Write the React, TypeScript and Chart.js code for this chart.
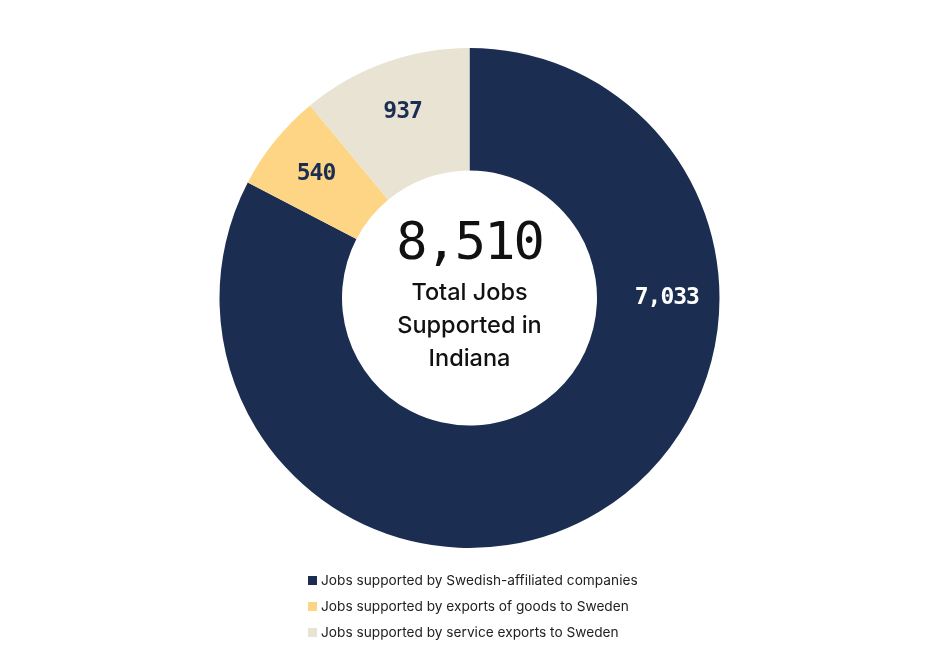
import React, { useEffect, useRef } from "react";
import { Chart, registerables } from "chart.js";

Chart.register(...registerables);

const categories = [
  "Jobs supported by Swedish-affiliated companies",
  "Jobs supported by exports of goods to Sweden",
  "Jobs supported by service exports to Sweden",
];
const jobValues = [7033, 540, 937];
const sliceColors = ["#1b2e51", "#fed584", "#e8e3d2"];
const labelColors = ["#ffffff", "#1b2e51", "#1b2e51"];
const totalLabel = "8,510";
const centerLines = ["Total Jobs", "Supported in", "Indiana"];

const fmt = (v: number) => v.toLocaleString("en-US");

const labelPlugin = {
  id: "sliceLabels",
  afterDatasetsDraw(chart: any) {
    const ctx = chart.ctx;
    const meta = chart.getDatasetMeta(0);
    ctx.save();
    meta.data.forEach((arc: any, i: number) => {
      const { x, y, startAngle, endAngle, innerRadius, outerRadius } = arc.getProps(
        ["x", "y", "startAngle", "endAngle", "innerRadius", "outerRadius"],
        true
      );
      let mid = (startAngle + endAngle) / 2;
      if (endAngle - startAngle > Math.PI) mid = 0; // big slice: label on the right
      const r = innerRadius + (outerRadius - innerRadius) * 0.57;
      ctx.fillStyle = labelColors[i];
      ctx.font = "bold 23px 'DejaVu Sans Mono', monospace";
      (ctx as any).letterSpacing = "-1px";
      ctx.textAlign = "center";
      ctx.textBaseline = "middle";
      ctx.fillText(fmt(jobValues[i]), x + Math.cos(mid) * r, y + Math.sin(mid) * r);
    });
    const a0: any = meta.data[0];
    const cx = a0.x;
    const cy = a0.y;
    ctx.fillStyle = "#111111";
    ctx.textAlign = "center";
    ctx.textBaseline = "alphabetic";
    ctx.font = "52px 'DejaVu Sans Mono', monospace";
    (ctx as any).letterSpacing = "-2px";
    ctx.fillText(totalLabel, cx, cy - 39);
    (ctx as any).letterSpacing = "0px";
    ctx.font = "500 23.5px Inter, sans-serif";
    centerLines.forEach((t, k) => {
      ctx.fillText(t, cx, cy + 2 + k * 33);
    });
    ctx.restore();
  },
};

export default function App() {
  const ref = useRef<HTMLCanvasElement | null>(null);
  useEffect(() => {
    if (!ref.current) return;
    const chart = new Chart(ref.current, {
      type: "doughnut",
      data: {
        labels: categories,
        datasets: [
          {
            data: jobValues,
            backgroundColor: sliceColors,
            borderWidth: 0,
          },
        ],
      },
      options: {
        animation: false,
        responsive: false,
        cutout: "51%",
        layout: { padding: 40 },
        plugins: {
          legend: { display: false },
          tooltip: { enabled: false },
        },
      },
      plugins: [labelPlugin],
    });
    return () => chart.destroy();
  }, []);

  return (
    <div style={{ position: "relative", width: 923, height: 640 }}>
      <canvas
        ref={ref}
        width={923}
        height={580}
        style={{ position: "absolute", left: 0, top: 0, width: 923, height: 580 }}
      />
      <div
        style={{
          position: "absolute",
          left: 300,
          top: 559,
          fontFamily: "Inter, sans-serif",
          fontSize: 13.7,
          color: "#222222",
        }}
      >
        {categories.map((c, i) => (
          <div key={c} style={{ display: "flex", alignItems: "center", height: 26, whiteSpace: "nowrap" }}>
            <span
              style={{
                display: "inline-block",
                width: 9,
                height: 9,
                background: sliceColors[i],
                marginRight: 4,
              }}
            />
            <span>{c}</span>
          </div>
        ))}
      </div>
    </div>
  );
}
